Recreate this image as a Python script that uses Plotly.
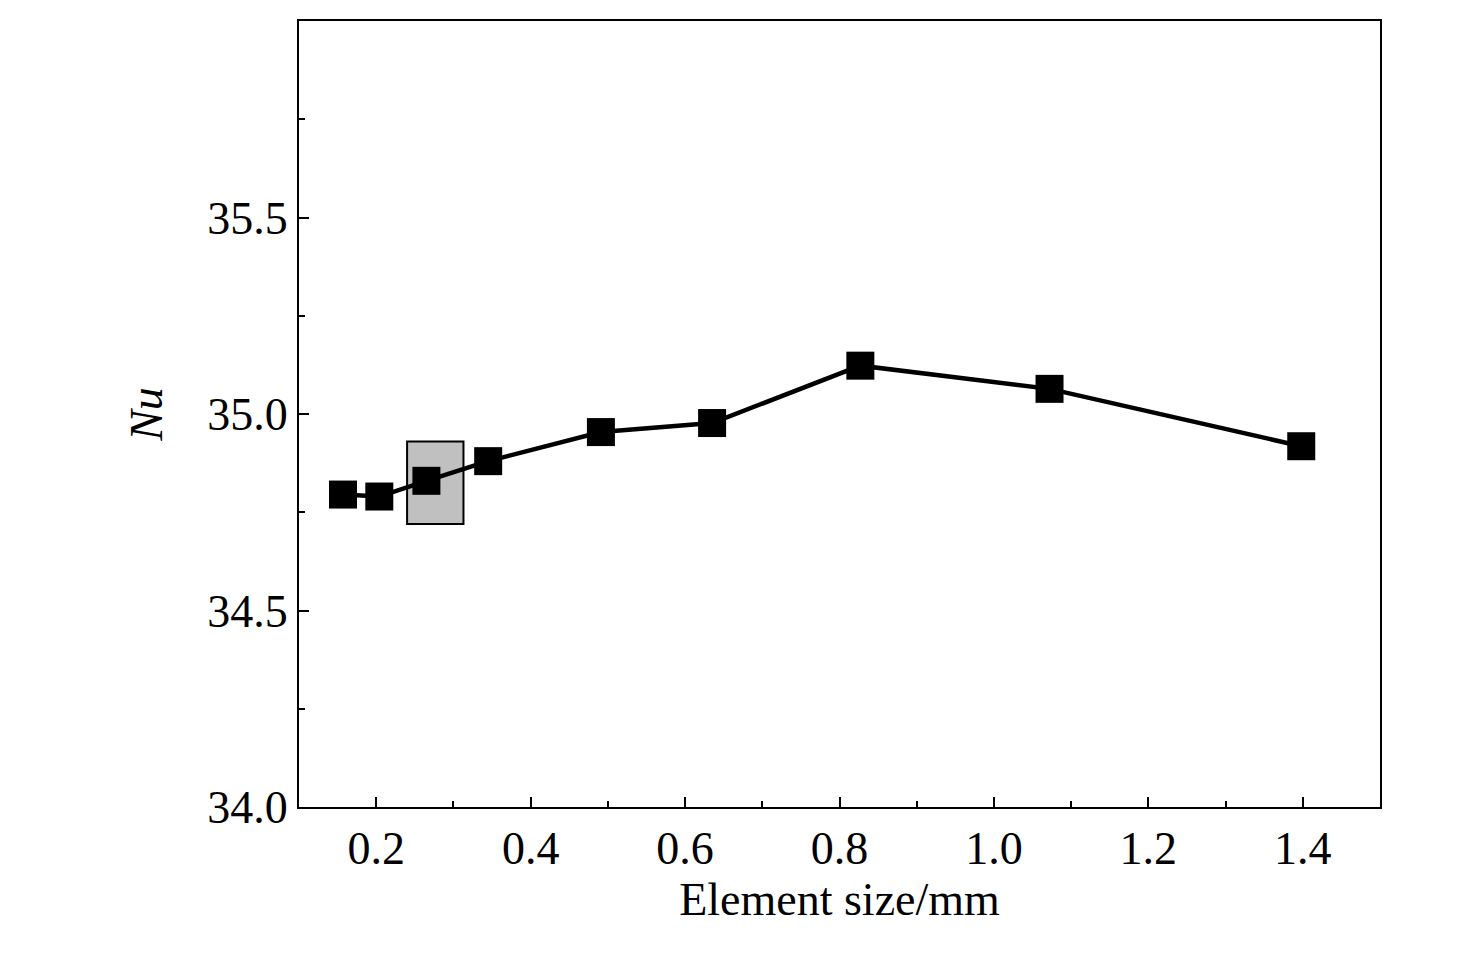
import plotly.graph_objects as go

element_size = [0.157, 0.204, 0.265, 0.345, 0.491, 0.635, 0.827, 1.072, 1.398]
nu = [34.795, 34.79, 34.83, 34.88, 34.954, 34.977, 35.123, 35.064, 34.918]

font = dict(family="Liberation Serif", size=46, color="black")

fig = go.Figure()
fig.add_trace(go.Scatter(
    x=element_size, y=nu, mode="lines+markers",
    line=dict(color="black", width=4.5),
    marker=dict(symbol="square", size=28, color="black"),
))

# highlighted mesh
fig.add_shape(type="rect", x0=0.240, x1=0.313, y0=34.72, y1=34.93,
              fillcolor="#c0c0c0", line=dict(color="black", width=2), layer="below")

axis = dict(showline=True, mirror=True, linecolor="black", linewidth=2,
            showgrid=False, zeroline=False, ticks="inside", ticklen=10,
            tickwidth=2, tickcolor="black", tickfont=font)
fig.update_xaxes(axis, range=[0.1, 1.5], tickvals=[0.2, 0.4, 0.6, 0.8, 1.0, 1.2, 1.4],
                 ticktext=["0.2", "0.4", "0.6", "0.8", "1.0", "1.2", "1.4"],
                 minor=dict(tickvals=[0.1, 0.3, 0.5, 0.7, 0.9, 1.1, 1.3], ticks="inside",
                            ticklen=6, tickwidth=2, tickcolor="black"),
                 title=dict(text="Element size/mm", font=font, standoff=8))
fig.update_yaxes(axis, range=[34.0, 36.0], tickvals=[34.0, 34.5, 35.0, 35.5, 36.0],
                 ticktext=["34.0", "34.5", "35.0", "35.5", "36.0"],
                 minor=dict(tickvals=[34.25, 34.75, 35.25, 35.75], ticks="inside",
                            ticklen=6, tickwidth=2, tickcolor="black"),
                 title=dict(text="<i>Nu</i>", font=font, standoff=30))
fig.update_layout(width=1476, height=953, showlegend=False,
                  plot_bgcolor="white", paper_bgcolor="white",
                  margin=dict(l=291, r=104, t=13, b=154))
fig.write_html("out.html")
